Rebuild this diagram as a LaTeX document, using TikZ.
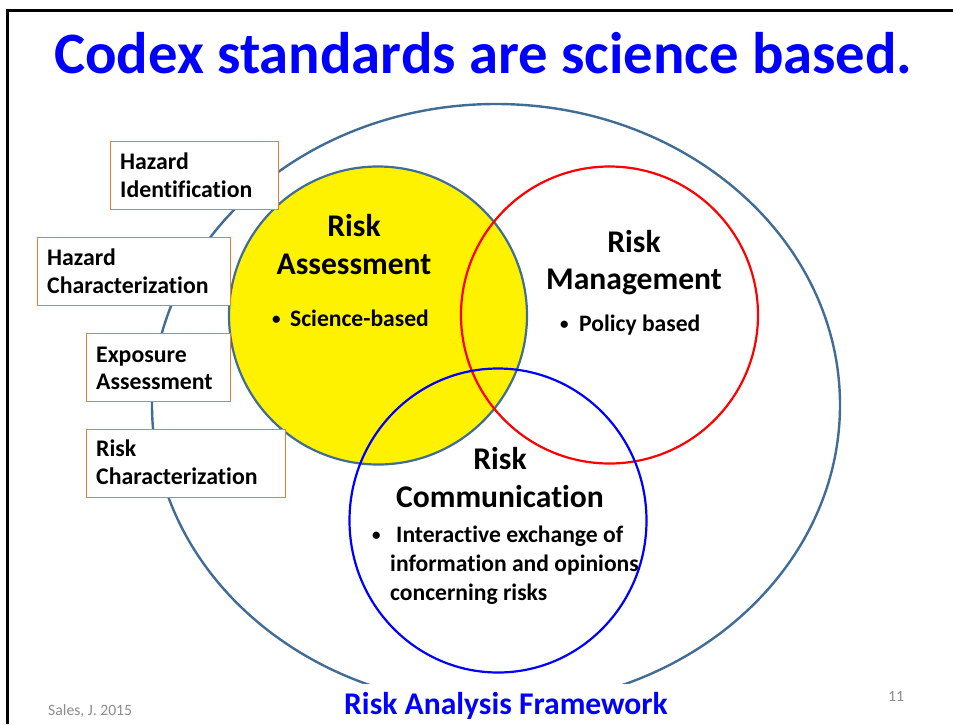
\documentclass[tikz,border=0pt]{standalone}
\usepackage{fontspec}
\setmainfont[Ligatures={NoCommon}]{Carlito}
\definecolor{slate}{RGB}{65,108,150}
\definecolor{boxorange}{RGB}{237,125,49}
\definecolor{titleblue}{RGB}{0,0,255}
\definecolor{footgrey}{RGB}{140,140,140}
\newcommand{\mybul}{\makebox[9pt][l]{\raisebox{2pt}{\fontsize{17}{17}\selectfont •}}}
\begin{document}
\begin{tikzpicture}[x=1pt,y=-1pt,
  title/.style={font=\fontsize{58.7}{64}\selectfont\bfseries, text=titleblue, inner sep=0pt, anchor=base},
  head/.style={font=\fontsize{31.6}{36}\selectfont\bfseries, inner sep=0pt, anchor=base},
  bodytxt/.style={font=\fontsize{23.6}{28}\selectfont\bfseries, inner sep=0pt, anchor=base west},
  boxtxt/.style={font=\fontsize{23.8}{28}\selectfont\bfseries, inner sep=0pt, anchor=base west},
  stepbox/.style={draw=boxorange, fill=white, line width=1.3pt, inner sep=0pt, anchor=north west},
  frameline/.style={line width=3pt, black},
]
\useasboundingbox (0,0) rectangle (953,724);
% frame
\coordinate (fl) at (7,724);
\coordinate (ftl) at (7,10.5);
\coordinate (ftr) at (953,10.5);
\draw[frameline] (fl) -- (ftl) -- (ftr);
% title
\node[title] (ttl) at (483.5,73) {Codex standards are science based.};
% circles
\begin{scope}
\clip (0,0) rectangle (953,683);
\draw[slate, line width=2.4pt] (496,405) ellipse [x radius=344, y radius=301];
\end{scope}
\draw[slate, line width=2.2pt, fill=yellow] (378,315.5) circle [radius=149];
\draw[red, line width=2.2pt] (609.5,315) circle [radius=148.5];
\begin{scope}
\clip (0,0) rectangle (953,683);
\draw[blue, line width=2.2pt] (498,520.5) ellipse [x radius=148.5, y radius=152];
\end{scope}
% boxes
\node[stepbox, minimum width=168, minimum height=68] (b1) at (110,141) {};
\node[stepbox, minimum width=193, minimum height=68] (b2) at (37,237) {};
\node[stepbox, minimum width=144, minimum height=68] (b3) at (86,333) {};
\node[stepbox, minimum width=199, minimum height=68] (b4) at (86,429) {};
\node[boxtxt] (b1a) at (120,169) {Hazard};
\node[boxtxt] (b1b) at (120,197) {Identification};
\node[boxtxt] (b2a) at (47,265) {Hazard};
\node[boxtxt] (b2b) at (47,293) {Characterization};
\node[boxtxt] (b3a) at (96,362) {Exposure};
\node[boxtxt] (b3b) at (96,389) {Assessment};
\node[boxtxt] (b4a) at (96,456) {Risk};
\node[boxtxt] (b4b) at (96,484) {Characterization};
% risk assessment
\node[head] (ra1) at (354,236) {Risk};
\node[head] (ra2) at (354,274) {Assessment};
\node[bodytxt] (ra3) at (272,326) {\mybul\hspace{9pt}Science-based};
% risk management
\node[head] (rm1) at (634,252) {Risk};
\node[head] (rm2) at (634,289) {Management};
\node[bodytxt] (rm3) at (560,331) {\mybul\hspace{10pt}Policy based};
% risk communication
\node[head] (rc1) at (500,469) {Risk};
\node[head] (rc2) at (500,507) {Communication};
\node[bodytxt] (rc3) at (372,542) {\mybul\hspace{15pt}Interactive exchange of};
\node[bodytxt] (rc4) at (390,571) {information and opinions};
\node[bodytxt] (rc5) at (390,600) {concerning risks};
% footer
\node[font=\fontsize{15.7}{18}\selectfont, text=footgrey, inner sep=0pt, anchor=base west] (src) at (48,715) {Sales, J. 2015};
\node[font=\fontsize{31.6}{36}\selectfont\bfseries, text=titleblue, inner sep=0pt, anchor=base] (cap) at (506,714) {Risk Analysis Framework};
\node[font=\fontsize{15.7}{18}\selectfont, text=footgrey, inner sep=0pt, anchor=base west] (pg) at (888,701) {11};
\end{tikzpicture}
\end{document}
